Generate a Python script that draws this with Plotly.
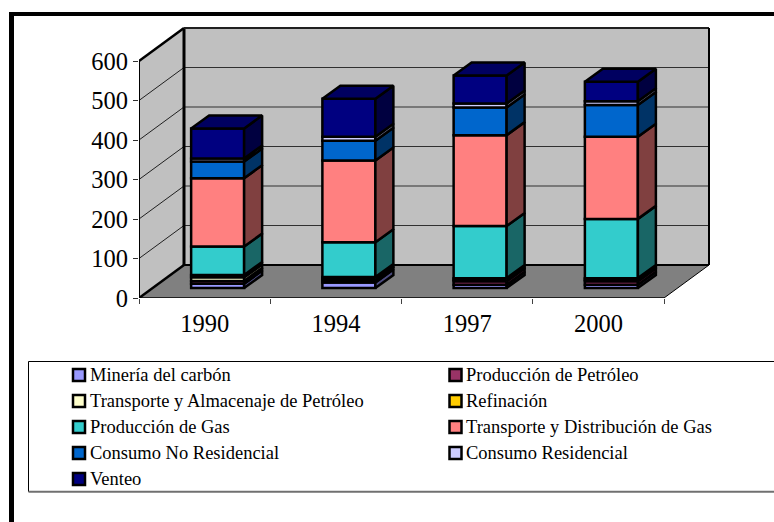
import plotly.graph_objects as go

years = ["1990", "1994", "1997", "2000"]
y_ticks = [0, 100, 200, 300, 400, 500, 600]

series_names = [
    "Minería del carbón", "Producción de Petróleo",
    "Transporte y Almacenaje de Petróleo", "Refinación",
    "Producción de Gas", "Transporte y Distribución de Gas",
    "Consumo No Residencial", "Consumo Residencial", "Venteo",
]
mineria = [11, 14, 8, 8]
petroleo = [7, 6, 9, 9]
transporte_petroleo = [9, 4, 4, 4]
refinacion = [6, 4, 4, 4]
prod_gas = [72, 88, 132, 150]
transp_gas = [173, 207, 230, 208]
no_residencial = [42, 50, 70, 80]
residencial = [8, 10, 10, 10]
venteo = [76, 96, 71, 49]
series_values = [mineria, petroleo, transporte_petroleo, refinacion, prod_gas,
                 transp_gas, no_residencial, residencial, venteo]

front = ["#9999FF", "#993366", "#FFFFCC", "#FFCC00", "#33CCCC", "#FF8080", "#0066CC", "#CCCCFF", "#000080"]
side = ["#4C4C7F", "#4C1933", "#7F7F66", "#7F6600", "#196666", "#804040", "#003366", "#66667F", "#000040"]
top_face = "#000060"

W, H = 774, 522
X0, Y0 = 139, 298          # pixel position of the axes origin
PX_CAT, PX_UNIT = 131.25, 237 / 600
X_END, Y_END = 722, 20
wall_dx, wall_dy = 45 / PX_CAT, 33 / PX_UNIT     # oblique offset of back wall
bar_dx, bar_dy = 13 / PX_CAT, 10 / PX_UNIT       # offset of bar front plane
depth_dx, depth_dy = 18 / PX_CAT, 13 / PX_UNIT   # bar depth
bar_w = 53 / PX_CAT
n_cat = len(years)
y_max = y_ticks[-1]

shapes = []
def poly(xs, ys, fill=None, color="black", width=0):
    path = "M" + "L".join(f"{a},{b}" for a, b in zip(xs, ys)) + "Z"
    shapes.append(dict(type="path", path=path, xref="x", yref="y", layer="below",
                       fillcolor=fill or "rgba(0,0,0,0)",
                       line=dict(color=color, width=width)))
def seg(x1, y1, x2, y2, color="black", width=1):
    shapes.append(dict(type="line", x0=x1, y0=y1, x1=x2, y1=y2, xref="x", yref="y",
                       layer="below", line=dict(color=color, width=width)))

# walls and floor
poly([0, wall_dx, wall_dx, 0], [0, wall_dy, y_max + wall_dy, y_max], "#C0C0C0")
poly([wall_dx, n_cat + wall_dx, n_cat + wall_dx, wall_dx],
     [wall_dy, wall_dy, y_max + wall_dy, y_max + wall_dy], "#C0C0C0")
poly([0, n_cat, n_cat + wall_dx, wall_dx], [0, 0, wall_dy, wall_dy], "#808080")
for t in y_ticks[1:-1]:
    seg(0, t, wall_dx, t + wall_dy, "#202020", 1)
    seg(wall_dx, t + wall_dy, n_cat + wall_dx, t + wall_dy, "#303030", 1.2)
seg(0, 0, 0, y_max, "black", 2)
seg(0, y_max, wall_dx, y_max + wall_dy, "black", 2.5)
seg(0, 0, wall_dx, wall_dy, "black", 2.5)
seg(wall_dx, wall_dy, wall_dx, y_max + wall_dy, "black", 3)
seg(wall_dx, y_max + wall_dy, n_cat + wall_dx, y_max + wall_dy, "#202020", 2)
seg(n_cat + wall_dx, wall_dy, n_cat + wall_dx, y_max + wall_dy, "black", 2)
seg(wall_dx, wall_dy, n_cat + wall_dx, wall_dy, "black", 2)
seg(0, 0, n_cat, 0, "black", 1.5)
seg(n_cat, 0, n_cat + wall_dx, wall_dy, "black", 1)

fig = go.Figure()
centers = [i + 0.5 + bar_dx for i in range(n_cat)]
bottom = [bar_dy] * n_cat
line = dict(color="black", width=2.5)
for name, vals, fc, sc in zip(series_names, series_values, front, side):
    fig.add_trace(go.Bar(x=centers, y=vals, base=bottom, width=bar_w, name=name,
                         marker=dict(color=fc, line=line), showlegend=False,
                         hovertemplate="%{y}<extra>" + name + "</extra>"))
    for c, b, v in zip(centers, bottom, vals):
        r = c + bar_w / 2
        fig.add_trace(go.Scatter(
            x=[r, r + depth_dx, r + depth_dx, r, r],
            y=[b, b + depth_dy, b + v + depth_dy, b + v, b],
            fill="toself", fillcolor=sc, mode="lines", line=line,
            showlegend=False, hoverinfo="skip"))
    bottom = [b + v for b, v in zip(bottom, vals)]
for c, b in zip(centers, bottom):
    l, r = c - bar_w / 2, c + bar_w / 2
    fig.add_trace(go.Scatter(
        x=[l, l + depth_dx, r + depth_dx, r, l],
        y=[b, b + depth_dy, b + depth_dy, b, b],
        fill="toself", fillcolor=top_face, mode="lines", line=line,
        showlegend=False, hoverinfo="skip"))

FONT = "Liberation Serif"
annotations = []
paper_shapes = []
def px(x): return x / W
def py(y): return 1 - y / H

# frame
paper_shapes.append(dict(type="rect", xref="paper", yref="paper", x0=px(9), x1=px(14), y0=py(522), y1=py(12),
                         fillcolor="black", line=dict(width=0)))
paper_shapes.append(dict(type="rect", xref="paper", yref="paper", x0=px(9), x1=px(774), y0=py(16), y1=py(12),
                         fillcolor="black", line=dict(width=0)))
# legend
paper_shapes.append(dict(type="rect", xref="paper", yref="paper", x0=px(28.5), x1=px(776), y0=py(491.5), y1=py(361.5),
                         fillcolor="white", line=dict(color="black", width=1)))
paper_shapes.append(dict(type="line", xref="paper", yref="paper", x0=px(28.5), x1=px(774), y0=py(491.7), y1=py(491.7),
                         line=dict(color="#707070", width=2)))
rows = [375, 401, 427, 453, 479]
for i, (name, fc) in enumerate(zip(series_names, front)):
    col = i % 2
    yc = rows[i // 2]
    xs = 73 if col == 0 else 449.5
    paper_shapes.append(dict(type="rect", xref="paper", yref="paper", x0=px(xs), x1=px(xs + 12),
                             y0=py(yc + 6), y1=py(yc - 6), fillcolor=fc,
                             line=dict(color="black", width=2.5)))
    annotations.append(dict(text=name, xref="paper", yref="paper", x=px(xs + 14.5), y=py(yc),
                            xanchor="left", yanchor="middle", showarrow=False,
                            font=dict(family=FONT, size=18.5, color="black")))

fig.update_layout(
    width=W, height=H, autosize=False, margin=dict(l=0, r=0, t=0, b=0, pad=0, autoexpand=False),
    paper_bgcolor="white", plot_bgcolor="rgba(0,0,0,0)", barmode="overlay",
    showlegend=False, shapes=shapes + paper_shapes, annotations=annotations,
    xaxis=dict(domain=[px(X0), px(X_END)], range=[0, (X_END - X0) / PX_CAT], automargin=False,
               tickmode="array", tickvals=[i + 0.5 for i in range(n_cat)], ticktext=years,
               ticks="", ticklabelstandoff=8, showgrid=False, zeroline=False, showline=False,
               tickfont=dict(family=FONT, size=24.5, color="black"),
               minor=dict(tickmode="array", tickvals=list(range(n_cat + 1)), ticks="outside",
                          ticklen=5, tickcolor="#404040", tickwidth=1, showgrid=False)),
    yaxis=dict(domain=[py(Y0), py(Y_END)], range=[0, (Y0 - Y_END) / PX_UNIT], automargin=False,
               tickmode="array", tickvals=y_ticks, ticks="outside", ticklen=5, tickcolor="#303030",
               showgrid=False, zeroline=False, showline=False,
               tickfont=dict(family=FONT, size=24.5, color="black")),
)

fig.write_html("out.html", config={"displayModeBar": False},
               post_script="document.body.style.margin='0';document.body.style.overflow='hidden';")
